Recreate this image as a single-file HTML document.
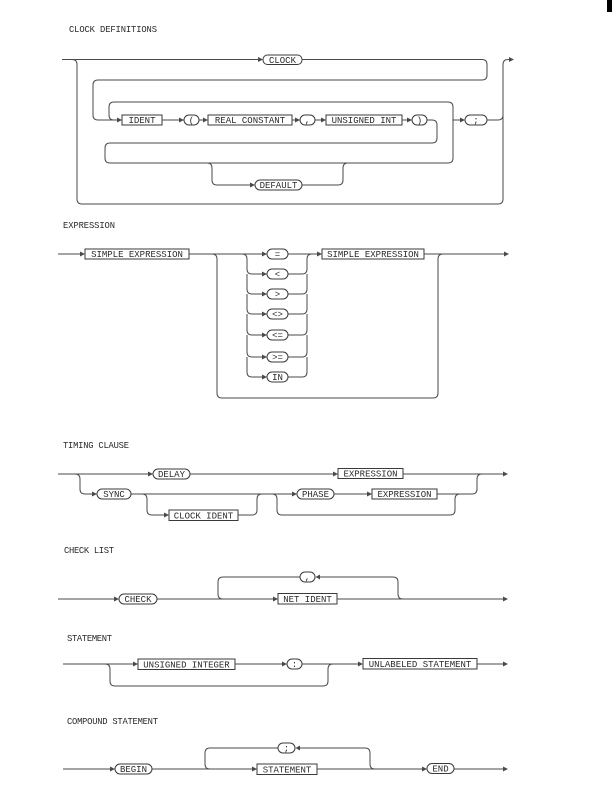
<!DOCTYPE html>
<html>
<head>
<meta charset="utf-8">
<style>
html,body{margin:0;padding:0;background:#fff;}
svg{display:block;}
text{font-family:"Liberation Mono","DejaVu Sans Mono",monospace;font-size:9px;fill:#2a2a2a;}
.t{font-size:8.8px;}
path{fill:none;stroke:#4a4a4a;stroke-width:1;}
rect{fill:#fff;stroke:#3a3a3a;stroke-width:1;}
polygon{fill:#4a4a4a;stroke:none;}
.c{text-anchor:middle;}
</style>
</head>
<body>
<svg width="612" height="791" viewBox="0 0 612 791" xmlns="http://www.w3.org/2000/svg">
<rect x="607" y="0" width="5" height="12" style="fill:#000;stroke:none"/>

<!-- CLOCK DEFINITIONS -->
<text class="t" x="69" y="32" textLength="88">CLOCK DEFINITIONS</text>
<path d="M62,59.5 H259"/>
<polygon points="258,57 263,59.5 258,62"/>
<rect x="263" y="55" width="39" height="9.5" rx="4.5"/>
<text class="c" x="282.5" y="62.8">CLOCK</text>
<path d="M302,59.5 H482 Q487,59.5 487,64.5 V75 Q487,80 482,80 H98 Q93,80 93,85 V115 Q93,120 98,120 H118"/>
<polygon points="117,117.5 122,120 117,122.5"/>
<path d="M72,59.5 Q77,59.5 77,64.5 V199 Q77,204 82,204 H498 Q503,204 503,199 V64.5 Q503,59.5 508,59.5 H510"/>
<polygon points="509,57 514,59.5 509,62"/>
<rect x="122" y="115" width="40" height="10"/>
<text class="c" x="142" y="123.2">IDENT</text>
<path d="M162,120 H180"/>
<polygon points="179,117.5 184,120 179,122.5"/>
<rect x="184" y="115" width="15" height="10" rx="5"/>
<text class="c" x="191.5" y="123.2">(</text>
<path d="M199,120 H204"/>
<polygon points="203,117.5 208,120 203,122.5"/>
<rect x="208" y="115" width="84" height="10"/>
<text class="c" x="250" y="123.2">REAL CONSTANT</text>
<path d="M292,120 H296"/>
<polygon points="295,117.5 300,120 295,122.5"/>
<rect x="300" y="115" width="15" height="10" rx="5"/>
<text class="c" x="307.5" y="123.2">,</text>
<path d="M315,120 H322"/>
<polygon points="321,117.5 326,120 321,122.5"/>
<rect x="326" y="115" width="76" height="10"/>
<text class="c" x="364" y="123.2">UNSIGNED INT</text>
<path d="M402,120 H408"/>
<polygon points="407,117.5 412,120 407,122.5"/>
<rect x="412" y="115" width="15" height="10" rx="5"/>
<text class="c" x="419.5" y="123.2">)</text>
<path d="M427,120 H432 Q437,120 437,125 V138 Q437,143 432,143 H110 Q105,143 105,148 V158 Q105,163 110,163 H448 Q453,163 453,158 V107 Q453,102 448,102 H114 Q109,102 109,107 V115 Q109,120 114,120"/>
<path d="M453,120 H461"/>
<polygon points="460,117.5 465,120 460,122.5"/>
<rect x="465" y="115" width="22" height="10" rx="5"/>
<text class="c" x="476" y="123.2">;</text>
<path d="M487,120 H498 Q503,120 503,115"/>
<path d="M207,163 Q212,163 212,168 V180 Q212,185 217,185 H251"/>
<polygon points="250,182.5 255,185 250,187.5"/>
<rect x="255" y="180" width="47" height="10" rx="5"/>
<text class="c" x="278.5" y="188.2">DEFAULT</text>
<path d="M302,185 H338 Q343,185 343,180 V168 Q343,163 348,163"/>

<!-- EXPRESSION -->
<text class="t" x="63" y="228" textLength="52">EXPRESSION</text>
<path d="M58,254 H81"/>
<polygon points="80,251.5 85,254 80,256.5"/>
<rect x="85" y="249" width="104" height="10"/>
<text class="c" x="137" y="257.2">SIMPLE EXPRESSION</text>
<path d="M189,254 H263"/>
<polygon points="262,251.5 267,254 262,256.5"/>
<rect x="267" y="249" width="21" height="10" rx="5"/>
<text class="c" x="277.5" y="257.2">=</text>
<path d="M288,254 H318"/>
<polygon points="317,251.5 322,254 317,256.5"/>
<rect x="322" y="249" width="102" height="10"/>
<text class="c" x="373" y="257.2">SIMPLE EXPRESSION</text>
<path d="M424,254 H505"/>
<polygon points="504,251.5 509,254 504,256.5"/>
<path d="M212,254 Q217,254 217,259 V393 Q217,398 222,398 H433 Q438,398 438,393 V259 Q438,254 443,254"/>

<path d="M242,254 Q247,254 247,259 V269 Q247,274 252,274 H263 M288,274 H302 Q307,274 307,269 V259 Q307,254 312,254"/>
<polygon points="262,271.5 267,274 262,276.5"/>
<rect x="267" y="269" width="21" height="10" rx="5"/>
<text class="c" x="277.5" y="277.2">&lt;</text>

<path d="M247,274 V289 Q247,294 252,294 H263 M288,294 H302 Q307,294 307,289 V274"/>
<polygon points="262,291.5 267,294 262,296.5"/>
<rect x="267" y="289" width="21" height="10" rx="5"/>
<text class="c" x="277.5" y="297.2">&gt;</text>

<path d="M247,294 V309 Q247,314 252,314 H263 M288,314 H302 Q307,314 307,309 V294"/>
<polygon points="262,311.5 267,314 262,316.5"/>
<rect x="267" y="309" width="21" height="10" rx="5"/>
<text class="c" x="277.5" y="317.2">&lt;&gt;</text>

<path d="M247,314 V330 Q247,335 252,335 H263 M288,335 H302 Q307,335 307,330 V314"/>
<polygon points="262,332.5 267,335 262,337.5"/>
<rect x="267" y="330" width="21" height="10" rx="5"/>
<text class="c" x="277.5" y="338.2">&lt;=</text>

<path d="M247,335 V352 Q247,357 252,357 H263 M288,357 H302 Q307,357 307,352 V335"/>
<polygon points="262,354.5 267,357 262,359.5"/>
<rect x="267" y="352" width="21" height="10" rx="5"/>
<text class="c" x="277.5" y="360.2">&gt;=</text>

<path d="M247,357 V372 Q247,377 252,377 H263 M288,377 H302 Q307,377 307,372 V357"/>
<polygon points="262,374.5 267,377 262,379.5"/>
<rect x="267" y="372" width="21" height="10" rx="5"/>
<text class="c" x="277.5" y="380.2">IN</text>

<!-- TIMING CLAUSE -->
<text class="t" x="63" y="448" textLength="66">TIMING CLAUSE</text>
<path d="M58,474 H149"/>
<polygon points="148,471.5 153,474 148,476.5"/>
<rect x="153" y="469" width="37" height="10" rx="5"/>
<text class="c" x="171.5" y="477.2">DELAY</text>
<path d="M190,474 H334"/>
<polygon points="333,471.5 338,474 333,476.5"/>
<rect x="338" y="468.5" width="65" height="10"/>
<text class="c" x="370.5" y="476.7">EXPRESSION</text>
<path d="M403,474 H504"/>
<polygon points="503,471.5 508,474 503,476.5"/>
<path d="M75,474 Q80,474 80,479 V489 Q80,494 85,494 H93"/>
<polygon points="92,491.5 97,494 92,496.5"/>
<rect x="97" y="489" width="34" height="10" rx="5"/>
<text class="c" x="114" y="497.2">SYNC</text>
<path d="M131,494 H293"/>
<polygon points="292,491.5 297,494 292,496.5"/>
<rect x="297" y="489" width="37" height="10" rx="5"/>
<text class="c" x="315.5" y="497.2">PHASE</text>
<path d="M334,494 H368"/>
<polygon points="367,491.5 372,494 367,496.5"/>
<rect x="372" y="489" width="65" height="10"/>
<text class="c" x="404.5" y="497.2">EXPRESSION</text>
<path d="M437,494 H472 Q477,494 477,489 V479 Q477,474 482,474"/>
<path d="M142,494 Q147,494 147,499 V510 Q147,515 152,515 H165"/>
<polygon points="164,512.5 169,515 164,517.5"/>
<rect x="169" y="510" width="69" height="10.5"/>
<text class="c" x="203.5" y="518.4">CLOCK IDENT</text>
<path d="M238,515 H252 Q257,515 257,510 V499 Q257,494 262,494"/>
<path d="M272,494 Q277,494 277,499 V510 Q277,515 282,515 H450 Q455,515 455,510 V499 Q455,494 460,494"/>

<!-- CHECK LIST -->
<text class="t" x="64" y="553" textLength="50">CHECK LIST</text>
<path d="M58,599 H115"/>
<polygon points="114,596.5 119,599 114,601.5"/>
<rect x="119" y="594" width="38" height="10" rx="5"/>
<text class="c" x="138" y="602.2">CHECK</text>
<path d="M157,599 H274"/>
<polygon points="273,596.5 278,599 273,601.5"/>
<rect x="278" y="593.5" width="59" height="10.5"/>
<text class="c" x="307.5" y="602">NET IDENT</text>
<path d="M337,599 H504"/>
<polygon points="503,596.5 508,599 503,601.5"/>
<path d="M223,599 Q218,599 218,594 V582 Q218,577 223,577 H300 M319,577 H393 Q398,577 398,582 V594 Q398,599 403,599"/>
<rect x="300" y="572" width="15" height="10" rx="5"/>
<text class="c" x="307.5" y="580.2">,</text>
<polygon points="320,574.5 315.5,577 320,579.5"/>

<!-- STATEMENT -->
<text class="t" x="67" y="641" textLength="45">STATEMENT</text>
<path d="M63,664 H134"/>
<polygon points="133,661.5 138,664 133,666.5"/>
<rect x="138" y="659" width="97" height="10.5"/>
<text class="c" x="186.5" y="667.5">UNSIGNED INTEGER</text>
<path d="M235,664 H283"/>
<polygon points="282,661.5 287,664 282,666.5"/>
<rect x="287" y="659" width="15" height="10" rx="5"/>
<text class="c" x="294.5" y="667.2">:</text>
<path d="M302,664 H359"/>
<polygon points="358,661.5 363,664 358,666.5"/>
<rect x="363" y="658.5" width="114" height="10.5"/>
<text class="c" x="420" y="667">UNLABELED STATEMENT</text>
<path d="M477,664 H504"/>
<polygon points="503,661.5 508,664 503,666.5"/>
<path d="M105,664 Q110,664 110,669 V681 Q110,686 115,686 H323 Q328,686 328,681 V669 Q328,664 333,664"/>

<!-- COMPOUND STATEMENT -->
<text class="t" x="67" y="724" textLength="91">COMPOUND STATEMENT</text>
<path d="M63,769 H111"/>
<polygon points="110,766.5 115,769 110,771.5"/>
<rect x="115" y="764" width="37" height="10" rx="5"/>
<text class="c" x="133.5" y="772.2">BEGIN</text>
<path d="M152,769 H253"/>
<polygon points="252,766.5 257,769 252,771.5"/>
<rect x="257" y="764" width="60" height="10.5"/>
<text class="c" x="287" y="772.4">STATEMENT</text>
<path d="M317,769 H423"/>
<polygon points="422,766.5 427,769 422,771.5"/>
<rect x="427" y="763.5" width="27" height="10" rx="5"/>
<text class="c" x="440.5" y="771.7">END</text>
<path d="M454,769 H504"/>
<polygon points="503,766.5 508,769 503,771.5"/>
<path d="M210,769 Q205,769 205,764 V753 Q205,748 210,748 H278 M299,748 H365 Q370,748 370,753 V764 Q370,769 375,769"/>
<rect x="278" y="743" width="17" height="10" rx="5"/>
<text class="c" x="286.5" y="751.2">;</text>
<polygon points="300,745.5 295.5,748 300,750.5"/>
</svg>
</body>
</html>
